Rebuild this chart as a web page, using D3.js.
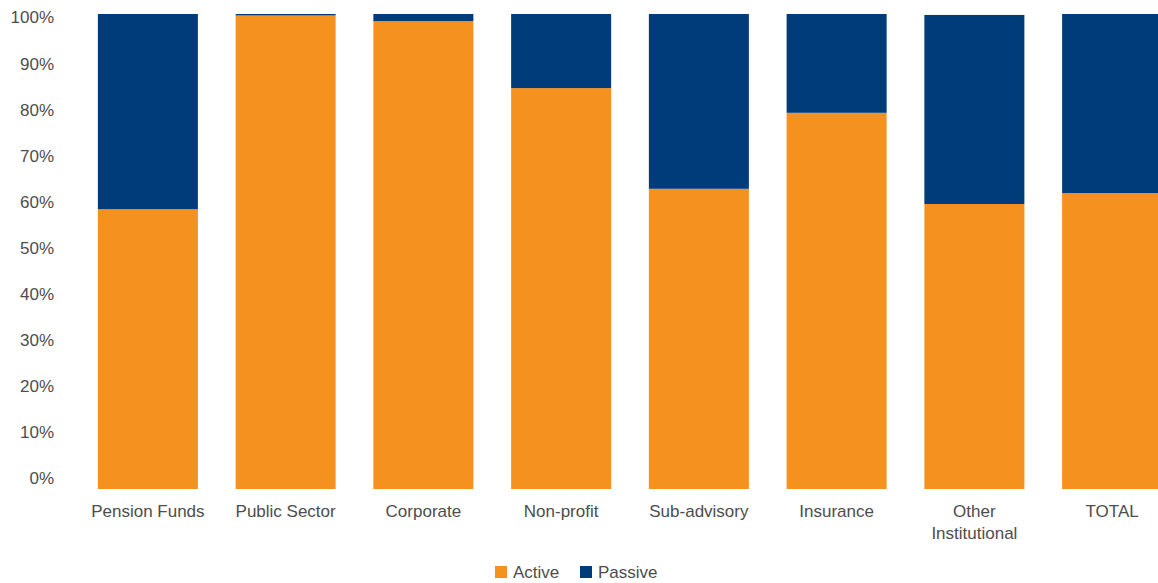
<!DOCTYPE html>
<html>
<head>
<meta charset="utf-8">
<script src="https://cdn.jsdelivr.net/npm/d3@7"></script>
<style>
  html, body { margin: 0; padding: 0; background: #fff; }
  svg text { font-family: "Liberation Sans", Arial, Helvetica, sans-serif; fill: #4d4d4d; }
</style>
</head>
<body>
<svg id="chart" width="1158" height="583"></svg>
<script>
// Share of assets, active vs passive, by client type (%)
const categories = ["Pension Funds", "Public Sector", "Corporate", "Non-profit", "Sub-advisory", "Insurance", "Other Institutional", "TOTAL"];
const activeValues  = [58.9, 99.7, 98.5, 84.4, 63.2, 79.2, 60.0, 62.3];
const passiveValues = [41.1, 0.3, 1.5, 15.6, 36.8, 20.8, 39.8, 37.7];
const seriesNames = ["Active", "Passive"];
const seriesColors = ["#F4911F", "#003B7A"];
const yTicks = [0, 10, 20, 30, 40, 50, 60, 70, 80, 90, 100];

const svg = d3.select("#chart");

const rows = categories.map((c, i) => ({ category: c, Active: activeValues[i], Passive: passiveValues[i] }));
const stacked = d3.stack().keys(seriesNames)(rows);

const x = d3.scaleBand()
  .domain(categories)
  .range([79, 1181])
  .paddingInner(0.274)
  .paddingOuter(0.137);

const y = d3.scaleLinear().domain([0, 100]).range([489, 14]);
// tick labels sit on their own slightly inset scale
const yLabel = d3.scaleLinear().domain([0, 100]).range([478, 17]);

const color = d3.scaleOrdinal().domain(seriesNames).range(seriesColors);

// stacked bars
svg.append("g")
  .selectAll("g")
  .data(stacked)
  .join("g")
  .attr("fill", d => color(d.key))
  .selectAll("rect")
  .data(d => d)
  .join("rect")
  .attr("x", d => x(d.data.category))
  .attr("width", x.bandwidth())
  .attr("y", d => y(d[1]))
  .attr("height", d => y(d[0]) - y(d[1]));

// y axis labels
const yAxis = d3.axisLeft(yLabel)
  .tickValues(yTicks)
  .tickFormat(d => d + "%")
  .tickSize(0)
  .tickPadding(0);
const yg = svg.append("g").attr("transform", "translate(54,0)").call(yAxis);
yg.select(".domain").remove();
yg.selectAll("text")
  .attr("font-size", 17)
  .attr("font-family", null)
  .attr("fill", null)
  .attr("dy", "0.35em");

// category labels (wrap multi-word long names)
const xAxis = d3.axisBottom(x).tickSize(0).tickPadding(0).tickFormat("");
const xg = svg.append("g").attr("transform", "translate(0,489)").call(xAxis);
xg.select(".domain").remove();
xg.selectAll(".tick").each(function(d) {
  const lines = d === "Other Institutional" ? ["Other", "Institutional"] : [d];
  const t = d3.select(this).select("text")
    .attr("font-size", 17)
    .attr("font-family", null)
    .attr("fill", null)
    .attr("y", 0)
    .attr("dy", null)
    .text(null);
  lines.forEach((ln, i) => {
    t.append("tspan")
      .attr("x", 0)
      .attr("y", 28 + i * 22)
      .text(ln);
  });
});

// legend
const legendItems = [{ name: "Active", x: 495, tx: 513 }, { name: "Passive", x: 580, tx: 598 }];
const lg = svg.append("g");
legendItems.forEach(it => {
  lg.append("rect")
    .attr("x", it.x).attr("y", 566)
    .attr("width", 12).attr("height", 12)
    .attr("fill", color(it.name));
  lg.append("text")
    .attr("x", it.tx).attr("y", 578)
    .attr("font-size", 17)
    .text(it.name);
});
</script>
</body>
</html>
